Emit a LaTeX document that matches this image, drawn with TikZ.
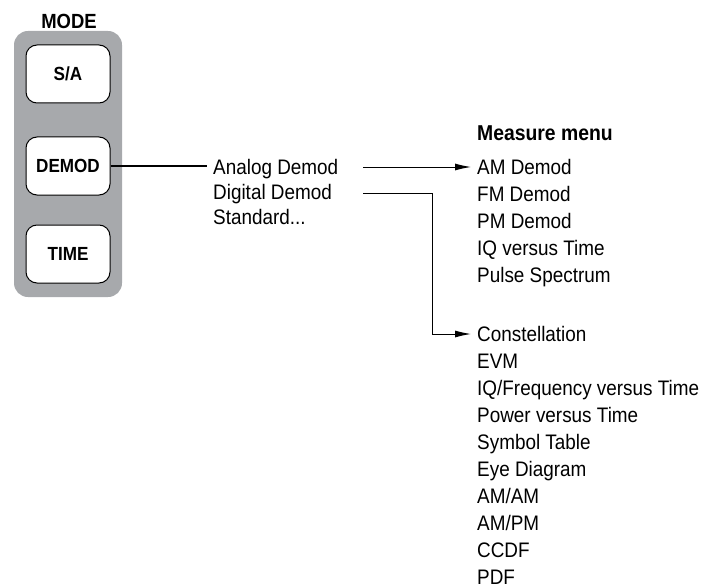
\documentclass[tikz,border=0pt]{standalone}
\usepackage{fontspec}
\setmainfont{Liberation Sans}[FakeStretch=0.9]
\usetikzlibrary{arrows.meta,positioning}
\definecolor{panelgray}{RGB}{167,169,172}

\begin{document}
\begin{tikzpicture}[
  x=1pt, y=-1pt,
  >={Latex[length=16pt,width=7pt]},
  key/.style={draw, fill=white, rounded corners=11pt, line width=1pt, minimum width=84pt, minimum height=58pt, font=\fontsize{19}{22}\selectfont\bfseries},
  item/.style={anchor=west, inner xsep=6pt, inner ysep=0pt, text height=15pt, text depth=0pt, font=\fontsize{21}{25}\selectfont},
  line/.style={line width=1pt},
  arrow/.style={->, line width=1pt}
]
\useasboundingbox (0,0) rectangle (711,588);
% mode keys
\fill[panelgray, rounded corners=14pt] (14,31) rectangle (122,297);
\node[font=\fontsize{20.5}{22}\selectfont\bfseries] (mode) at (69,21) {MODE};
\node[key] (sa) at (68,74) {S/A};
\node[key] (demod) at (68,166) {DEMOD};
\node[key] (time) at (68,254) {TIME};
% demod side menu
\node[item] (analog) at (207,167) {Analog Demod};
\node[item] (digital) at ([yshift=-25pt]analog.west) {Digital Demod};
\node[item] (standard) at ([yshift=-25pt]digital.west) {Standard...};
% measure menu
\node[item, font=\fontsize{21.5}{25}\selectfont\bfseries] (measure) at (471,133) {Measure menu};
\node[item] (am) at (471,167) {AM Demod};
\node[item] (fm) at ([yshift=-27pt]am.west) {FM Demod};
\node[item] (pm) at ([yshift=-27pt]fm.west) {PM Demod};
\node[item] (iq) at ([yshift=-27pt]pm.west) {IQ versus Time};
\node[item] (pulse) at ([yshift=-27pt]iq.west) {Pulse Spectrum};
\node[item] (constel) at (471,334) {Constellation};
\node[item] (evm) at ([yshift=-27pt]constel.west) {EVM};
\node[item] (iqf) at ([yshift=-27pt]evm.west) {IQ/Frequency versus Time};
\node[item] (power) at ([yshift=-27pt]iqf.west) {Power versus Time};
\node[item] (symbol) at ([yshift=-27pt]power.west) {Symbol Table};
\node[item] (eye) at ([yshift=-27pt]symbol.west) {Eye Diagram};
\node[item] (amam) at ([yshift=-27pt]eye.west) {AM/AM};
\node[item] (ampm) at ([yshift=-27pt]amam.west) {AM/PM};
\node[item] (ccdf) at ([yshift=-27pt]ampm.west) {CCDF};
\node[item] (pdf) at ([yshift=-27pt]ccdf.west) {PDF};
% connectors
\coordinate (astart) at (363,167);
\coordinate (dstart) at (363,193);
\coordinate (bend) at (432,193);
\draw[line] (demod.east) -- (demod.east -| analog.west);
\draw[arrow] (astart) -- (am.west);
\draw[arrow] (dstart) -- (bend) |- (constel.west);
\end{tikzpicture}
\end{document}
